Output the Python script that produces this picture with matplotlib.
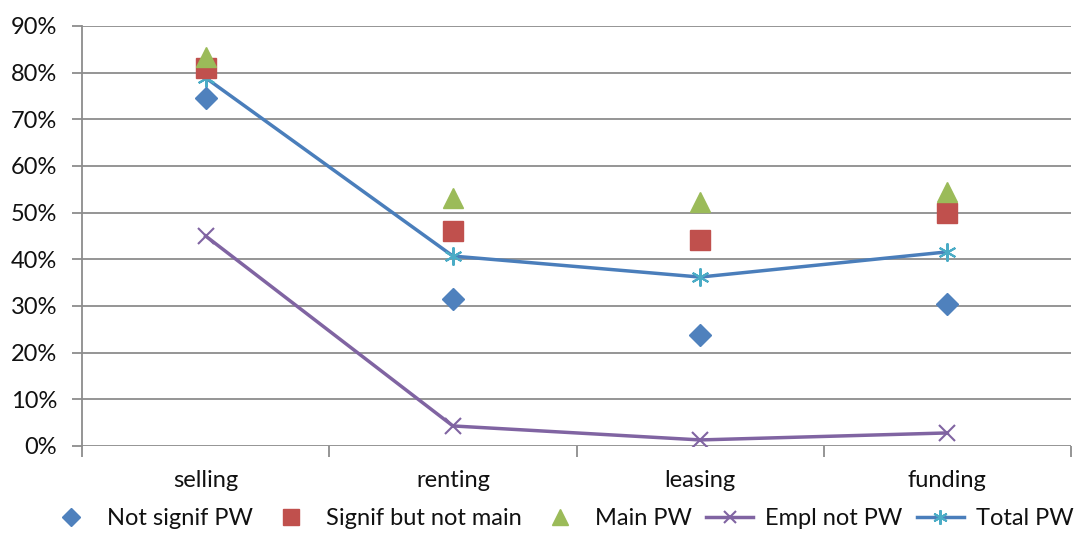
import matplotlib.pyplot as plt
import numpy as np

categories = ["selling", "renting", "leasing", "funding"]
not_signif = [0.745, 0.315, 0.238, 0.305]
signif_not_main = [0.810, 0.461, 0.441, 0.499]
main_pw = [0.834, 0.531, 0.523, 0.544]
empl_not_pw = [0.450, 0.043, 0.013, 0.028]
total_pw = [0.789, 0.407, 0.362, 0.416]
y_ticks = [0.0, 0.1, 0.2, 0.3, 0.4, 0.5, 0.6, 0.7, 0.8, 0.9]

plt.rcParams['font.family'] = ['Lato', 'DejaVu Sans']

fig = plt.figure(figsize=(10.74, 5.34), dpi=100)
ax = fig.add_axes([82 / 1074, 88 / 534, 989 / 1074, 420 / 534])

x = np.arange(len(categories))
grid_c = "#8c8c8c"
txt_c = "#111111"

# horizontal gridlines
for t in y_ticks:
    ax.axhline(t, color=grid_c, lw=1.3, zorder=0)

ax.plot(x, empl_not_pw, color="#8064A2", lw=2.5, marker="x", ms=11, mew=1.5,
        label="Empl not PW", zorder=3)
ax.plot(x, total_pw, color="#4A7EBB", lw=2.5, marker=(6, 2, 0), ms=13, mew=1.5,
        mec="#4BACC6", label="Total PW", zorder=3)
ax.plot(x, not_signif, ls="none", marker="D", ms=11, color="#4F81BD",
        label="Not signif PW", zorder=4)
ax.plot(x, signif_not_main, ls="none", marker="s", ms=14, color="#C0504D",
        label="Signif but not main", zorder=4)
ax.plot(x, main_pw, ls="none", marker="^", ms=15, color="#9BBB59",
        label="Main PW", zorder=5)

ax.set_xlim(-0.5, len(categories) - 0.5)
ax.set_ylim(0, 0.9)
ax.set_yticks(y_ticks)
ax.set_yticklabels([f"{int(round(t * 100))}%" for t in y_ticks], fontsize=17, color=txt_c)
ax.set_xticks(x)
ax.set_xticklabels(categories, fontsize=17, color=txt_c)
ax.tick_params(axis="x", length=0, pad=17)
ax.tick_params(axis="y", length=7, color=grid_c, width=1.3, pad=11)

# category boundary ticks below the axis
ax.set_xticks(np.arange(-0.5, len(categories)), minor=True)
ax.tick_params(axis="x", which="minor", length=8, color=grid_c, width=1.3)

for s in ["top", "right", "bottom"]:
    ax.spines[s].set_visible(False)
ax.spines["left"].set_color(grid_c)
ax.spines["left"].set_linewidth(1.3)

h, l = ax.get_legend_handles_labels()
order = [2, 3, 4, 0, 1]
fig.legend([h[i] for i in order], [l[i] for i in order], loc="lower center",
           ncol=5, frameon=False, fontsize=17, bbox_to_anchor=(0.522, -0.022),
           handlelength=2.0, columnspacing=0.6, handletextpad=0.5, markerscale=0.8,
           borderpad=0.2, labelcolor=txt_c)

fig.savefig("out.png", dpi=100)
